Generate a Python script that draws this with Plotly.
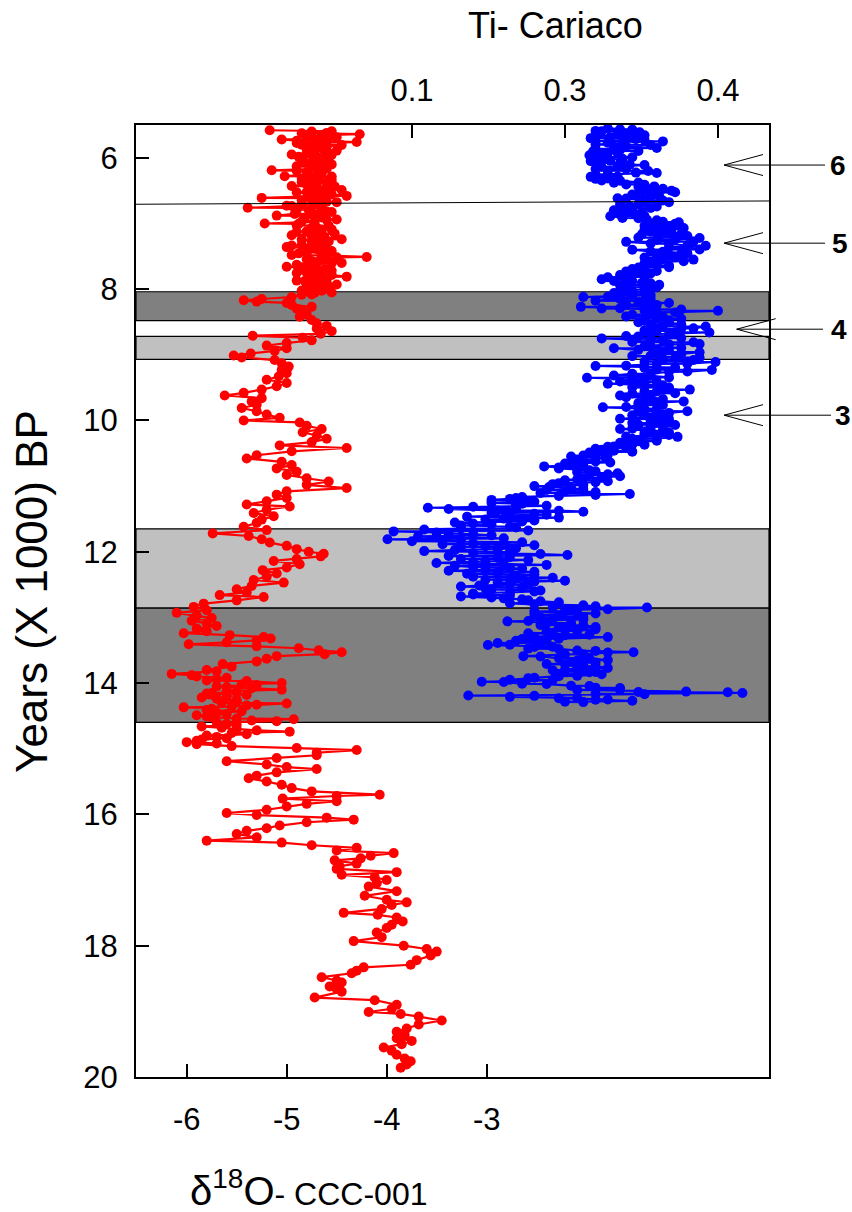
import plotly.graph_objects as go

# ---------------- data ----------------
# d18O record (CCC-001): age (kyr BP) and value, main pass
red_age = [5.58,5.60,5.62,5.64,5.66,5.68,5.70,5.72,5.74,5.76,5.78,5.80,5.83,5.86,5.89,5.92,5.95,5.98,6.01,6.04,
           6.07,6.10,6.13,6.16,6.19,6.22,6.25,6.28,6.31,6.34,6.37,6.40,6.43,6.46,6.49,6.52,6.55,6.58,6.61,6.64,
           6.67,6.70,6.73,6.76,6.79,6.82,6.85,6.88,6.91,6.94,6.97,7.00,7.03,7.06,7.09,7.12,7.15,7.18,7.21,7.24,
           7.27,7.30,7.33,7.36,7.39,7.42,7.45,7.48,7.51,7.54,7.57,7.60,7.63,7.66,7.69,7.72,7.75,7.78,7.81,7.84,
           7.87,7.90,7.93,7.96,7.99,8.02,8.05,8.08,8.12,8.15,8.17,8.19,8.21,8.24,8.27,8.30,8.34,8.38,8.42,8.47,
           8.52,8.56,8.60,8.64,8.68,8.71,8.74,8.78,8.82,8.86,8.90,8.94,8.98,9.01,9.04,9.08,9.13,9.18,9.23,9.28,
           9.33,9.38,9.43,9.48,9.53,9.58,9.62,9.66,9.71,9.76,9.81,9.86,9.91,9.96,10.00,10.03,10.08,10.13,10.18,10.23,
           10.28,10.33,10.38,10.42,10.47,10.53,10.58,10.63,10.68,10.73,10.78,10.83,10.88,10.93,10.98,11.03,11.08,11.13,11.18,11.23,
           11.28,11.31,11.36,11.41,11.46,11.51,11.56,11.62,11.67,11.72,11.76,11.81,11.86,11.91,11.96,12.00,12.03,12.07,12.11,12.14,
           12.19,12.24,12.28,12.33,12.38,12.43,12.47,12.52,12.57,12.62,12.66,12.69,12.74,12.79,12.84,12.89,12.93,12.97,13.01,13.05,
           13.09,13.13,13.17,13.21,13.24,13.27,13.30,13.32,13.35,13.38,13.41,13.44,13.47,13.50,13.53,13.56,13.59,13.63,13.67,13.71,
           13.75,13.80,13.86,13.90,13.94,13.97,14.00,14.03,14.06,14.10,14.13,14.16,14.20,14.24,14.28,14.31,14.34,14.37,14.41,14.45,
           14.49,14.52,14.55,14.58,14.62,14.66,14.70,14.74,14.78,14.82,14.86,14.90,14.93,14.96,14.99,15.02,15.06,15.10,15.14,15.19,
           15.24,15.28,15.31,15.36,15.41,15.45,15.50,15.55,15.60,15.65,15.70,15.72,15.76,15.80,15.84,15.88,15.93,15.98,16.01,16.05,
           16.08,16.12,16.17,16.21,16.25,16.30,16.35,16.40,16.43,16.47,16.51,16.55,16.59,16.63,16.67,16.70,16.75,16.79,16.83,16.88,
           16.92,16.96,17.00,17.05,17.10,17.17,17.24,17.30,17.34,17.38,17.44,17.50,17.53,17.57,17.63,17.68,17.73,17.80,17.87,17.93,
           18.00,18.05,18.09,18.15,18.22,18.29,18.33,18.38,18.42,18.48,18.53,18.56,18.62,18.66,18.70,18.79,18.83,18.90,18.96,19.01,
           19.04,19.08,19.14,19.20,19.26,19.31,19.36,19.41,19.45,19.50,19.55,19.60,19.66,19.72,19.76,19.81,19.86]
red_d18o = [-5.17,-4.75,-4.60,-4.27,-4.55,-4.80,-4.65,-5.05,-4.90,-4.30,-4.70,-4.85,-4.60,-4.75,-4.50,-4.80,-4.95,-4.70,-4.60,-4.85,
            -4.75,-4.55,-4.90,-4.70,-5.15,-4.80,-4.65,-5.02,-4.75,-4.55,-4.85,-4.70,-4.95,-4.60,-4.45,-4.80,-4.65,-4.40,-5.25,-4.75,
            -4.60,-4.85,-5.00,-5.39,-4.90,-4.60,-4.75,-5.10,-4.65,-4.50,-4.85,-5.22,-4.90,-4.70,-4.55,-4.80,-4.65,-4.95,-4.70,-4.45,
            -4.75,-4.60,-4.85,-5.00,-4.70,-4.55,-4.80,-4.95,-4.20,-4.60,-4.75,-4.45,-4.90,-5.00,-4.70,-4.55,-4.80,-4.65,-4.40,-4.75,
            -4.90,-4.60,-4.50,-4.80,-4.65,-4.85,-4.55,-4.75,-4.95,-5.25,-5.43,-5.30,-5.00,-4.95,-4.75,-4.90,-4.85,-4.80,-4.87,-4.75,
            -4.70,-4.60,-4.70,-4.55,-4.66,-5.34,-4.84,-4.75,-5.00,-5.20,-5.00,-5.12,-5.36,-5.53,-5.45,-5.12,-5.05,-4.98,-5.05,-5.00,
            -5.08,-5.20,-5.00,-5.10,-5.25,-5.43,-5.62,-5.25,-5.35,-5.30,-5.45,-5.30,-5.20,-5.07,-5.43,-4.87,-4.80,-4.65,-4.84,-4.70,
            -4.60,-4.75,-5.07,-4.40,-4.95,-5.30,-5.40,-5.05,-4.95,-5.10,-4.90,-5.00,-4.80,-4.58,-4.80,-4.40,-5.00,-5.10,-5.00,-5.20,
            -5.40,-4.97,-5.20,-5.33,-5.13,-5.25,-5.30,-5.43,-5.20,-5.74,-5.38,-5.25,-5.17,-5.00,-4.90,-4.78,-4.63,-4.66,-4.90,-5.13,
            -4.87,-5.00,-5.24,-5.10,-5.20,-5.33,-5.03,-5.35,-5.50,-5.40,-5.67,-5.23,-5.50,-5.83,-5.93,-5.80,-6.10,-5.90,-5.75,-5.95,
            -5.80,-5.70,-5.90,-5.80,-6.03,-5.57,-5.23,-5.16,-5.30,-5.60,-5.98,-5.30,-4.88,-4.68,-4.45,-4.62,-5.10,-5.20,-5.30,-5.64,
            -5.55,-5.80,-6.15,-5.90,-5.70,-5.40,-5.05,-5.30,-5.60,-5.05,-5.50,-5.80,-5.60,-5.70,-5.50,-5.00,-5.40,-6.03,-5.80,-5.70,
            -5.90,-5.75,-4.93,-5.10,-5.60,-5.85,-5.50,-4.97,-5.40,-5.70,-5.85,-6.00,-5.90,-5.55,-4.90,-4.30,-4.70,-4.70,-5.10,-5.60,
            -5.20,-5.00,-4.70,-5.10,-5.30,-5.38,-5.20,-5.05,-4.95,-4.75,-4.07,-4.50,-5.04,-4.50,-4.80,-5.00,-5.20,-5.60,-5.30,-4.60,
            -4.33,-4.80,-5.07,-5.20,-5.40,-5.50,-5.30,-5.80,-5.05,-4.75,-4.30,-4.50,-3.93,-4.16,-4.26,-4.52,-4.30,-4.47,-4.50,-3.90,
            -4.45,-4.12,-4.00,-4.10,-4.18,-3.90,-4.22,-4.00,-3.80,-3.95,-4.05,-4.43,-4.09,-3.90,-3.84,-3.95,-4.00,-4.10,-4.05,-4.33,
            -3.83,-3.60,-3.50,-3.56,-3.70,-3.76,-4.23,-4.30,-4.35,-4.65,-4.50,-4.45,-4.57,-4.50,-4.45,-4.72,-4.12,-3.90,-3.95,-4.18,
            -3.86,-3.68,-3.45,-3.68,-3.80,-3.90,-3.82,-3.90,-3.75,-3.85,-4.03,-3.95,-3.90,-3.82,-3.76,-3.80,-3.86]
# d18O, extra samples read from the dense parts of the record
red_age_b = [5.595,5.625,5.655,5.685,5.715,5.745,5.775,5.805,5.835,5.865,
             5.895,5.925,5.955,5.985,6.015,6.045,6.075,6.105,6.135,6.165,
             6.195,6.225,6.255,6.285,6.315,6.345,6.375,6.405,6.435,6.465,
             6.495,6.525,6.555,6.585,6.615,6.645,6.675,6.705,6.735,6.765,
             6.795,6.825,6.855,6.885,6.915,6.945,6.975,7.005,7.035,7.065,
             7.095,7.125,7.155,7.185,7.215,7.245,7.275,7.305,7.335,7.365,
             7.395,7.425,7.455,7.485,7.515,7.545,7.575,7.605,7.635,7.665,
             7.695,7.725,7.755,7.785,7.815,7.845,7.875,7.905,7.935,7.965,
             7.995,8.025,8.055,8.085,
             13.82,13.88,13.92,13.96,14.02,14.05,14.08,14.12,14.15,14.18,
             14.22,14.26,14.30,14.33,14.36,14.39,14.43,14.47,14.51,14.54,
             14.57,14.60,14.64,14.68,14.72,14.76,14.80,14.84,14.88,14.92]
red_d18o_b = [-4.55,-4.85,-4.65,-4.50,-4.72,-4.60,-4.90,-4.45,-4.68,-4.80,
              -4.62,-4.75,-4.55,-4.88,-4.70,-4.58,-4.82,-4.65,-4.75,-4.60,
              -4.90,-4.68,-4.78,-4.55,-4.85,-4.70,-4.60,-4.80,-4.52,-4.72,
              -4.62,-4.90,-4.55,-4.75,-4.68,-4.85,-4.50,-4.72,-4.95,-4.65,
              -4.78,-4.55,-4.92,-4.70,-4.82,-4.60,-4.72,-4.88,-4.58,-4.75,
              -4.65,-4.90,-4.52,-4.75,-4.62,-4.85,-4.58,-4.70,-4.95,-4.62,
              -4.78,-4.60,-4.88,-4.65,-4.50,-4.80,-4.68,-4.55,-4.75,-4.85,
              -4.62,-4.72,-4.90,-4.55,-4.70,-4.60,-4.82,-4.68,-4.75,-4.58,
              -4.80,-4.65,-4.72,-4.85,
              -5.70,-5.95,-5.60,-5.80,-5.45,-5.70,-5.35,-5.60,-5.75,-5.40,
              -5.85,-5.50,-5.65,-5.30,-5.55,-5.75,-5.45,-5.60,-5.80,-5.50,
              -5.35,-5.70,-5.50,-5.65,-5.30,-5.55,-5.80,-5.60,-5.90,-5.70]

# Ti record (Cariaco): age (kyr BP) and value, main pass
blue_age = [5.55,5.57,5.59,5.61,5.63,5.66,5.68,5.70,5.73,5.75,5.77,5.80,5.83,5.85,5.88,5.90,5.93,5.96,5.99,6.02,
            6.05,6.08,6.11,6.14,6.17,6.20,6.23,6.26,6.29,6.32,6.35,6.38,6.41,6.44,6.47,6.50,6.53,6.56,6.59,6.62,
            6.65,6.68,6.71,6.74,6.77,6.80,6.83,6.86,6.89,6.92,6.95,6.98,7.01,7.04,7.07,7.10,7.13,7.16,7.19,7.22,
            7.25,7.28,7.31,7.34,7.37,7.40,7.43,7.46,7.49,7.52,7.55,7.58,7.61,7.64,7.67,7.70,7.73,7.76,7.79,7.82,
            7.85,7.88,7.91,7.94,7.97,8.00,8.03,8.06,8.09,8.12,8.15,8.18,8.21,8.24,8.27,8.29,8.31,8.33,8.36,8.39,
            8.42,8.45,8.48,8.51,8.54,8.57,8.60,8.63,8.66,8.69,8.72,8.75,8.78,8.81,8.84,8.87,8.90,8.93,8.96,8.99,
            9.02,9.05,9.08,9.11,9.14,9.17,9.20,9.23,9.26,9.29,9.32,9.35,9.38,9.41,9.44,9.47,9.50,9.53,9.56,9.59,
            9.62,9.65,9.68,9.71,9.74,9.77,9.80,9.83,9.86,9.89,9.92,9.95,9.98,10.01,10.04,10.07,10.10,10.13,10.16,10.19,
            10.22,10.25,10.28,10.31,10.34,10.37,10.40,10.43,10.46,10.49,10.52,10.55,10.58,10.61,10.64,10.67,10.70,10.73,10.76,10.79,
            10.82,10.85,10.88,10.91,10.94,10.97,11.00,11.03,11.06,11.09,11.12,11.15,11.18,11.21,11.24,11.27,11.30,11.33,11.35,11.37,
            11.39,11.42,11.45,11.48,11.51,11.54,11.57,11.60,11.63,11.66,11.69,11.72,11.75,11.78,11.81,11.84,11.87,11.90,11.93,11.96,
            11.99,12.02,12.05,12.08,12.11,12.14,12.17,12.20,12.23,12.26,12.29,12.32,12.35,12.38,12.41,12.44,12.47,12.50,12.53,12.56,
            12.59,12.62,12.65,12.68,12.71,12.74,12.77,12.80,12.83,12.85,12.88,12.91,12.94,12.97,13.00,13.03,13.06,13.09,13.12,13.15,
            13.18,13.21,13.24,13.27,13.30,13.33,13.36,13.39,13.42,13.45,13.48,13.51,13.53,13.56,13.59,13.62,13.65,13.68,13.71,13.74,
            13.77,13.80,13.83,13.86,13.89,13.92,13.95,13.98,14.01,14.04,14.07,14.10,14.13,14.14,14.15,14.17,14.19,14.21,14.23,14.25,
            14.27,14.29]
blue_ti = [0.310,0.330,0.300,0.336,0.318,0.300,0.325,0.296,0.340,0.355,0.310,0.300,0.325,0.350,0.320,0.298,0.310,0.295,0.330,0.305,
           0.296,0.320,0.340,0.305,0.300,0.343,0.350,0.310,0.296,0.300,0.320,0.315,0.340,0.335,0.355,0.362,0.345,0.330,0.345,0.325,
           0.355,0.340,0.320,0.350,0.330,0.315,0.338,0.320,0.312,0.335,0.350,0.368,0.345,0.360,0.372,0.340,0.355,0.338,0.375,0.385,
           0.350,0.325,0.360,0.390,0.375,0.330,0.355,0.370,0.360,0.340,0.380,0.350,0.345,0.360,0.335,0.340,0.325,0.345,0.330,0.310,
           0.305,0.330,0.345,0.320,0.350,0.340,0.330,0.315,0.345,0.290,0.320,0.340,0.360,0.350,0.288,0.320,0.370,0.400,0.350,0.330,
           0.355,0.370,0.340,0.360,0.345,0.390,0.370,0.350,0.393,0.360,0.335,0.305,0.355,0.380,0.360,0.340,0.315,0.360,0.385,0.350,
           0.330,0.365,0.380,0.398,0.350,0.300,0.340,0.395,0.360,0.330,0.345,0.293,0.330,0.350,0.310,0.340,0.360,0.377,0.350,0.330,
           0.320,0.345,0.340,0.372,0.350,0.335,0.306,0.340,0.375,0.350,0.330,0.345,0.360,0.350,0.330,0.365,0.345,0.320,0.355,0.340,
           0.360,0.367,0.330,0.350,0.320,0.340,0.310,0.300,0.315,0.295,0.310,0.280,0.300,0.290,0.312,0.280,0.258,0.270,0.295,0.285,
           0.310,0.320,0.290,0.275,0.300,0.265,0.250,0.280,0.260,0.300,0.328,0.270,0.235,0.215,0.250,0.240,0.260,0.163,0.180,0.220,
           0.290,0.250,0.230,0.270,0.210,0.240,0.200,0.190,0.235,0.160,0.135,0.180,0.215,0.170,0.130,0.150,0.200,0.250,0.190,0.220,
           0.160,0.200,0.277,0.230,0.190,0.210,0.170,0.260,0.200,0.240,0.180,0.220,0.250,0.200,0.235,0.275,0.220,0.245,0.190,0.210,
           0.255,0.230,0.200,0.190,0.225,0.245,0.270,0.250,0.300,0.342,0.280,0.250,0.300,0.270,0.255,0.290,0.228,0.260,0.290,0.270,
           0.300,0.260,0.245,0.275,0.310,0.240,0.260,0.220,0.212,0.250,0.270,0.300,0.331,0.290,0.241,0.270,0.310,0.280,0.260,0.290,
           0.310,0.275,0.300,0.270,0.285,0.250,0.230,0.207,0.240,0.280,0.300,0.320,0.374,0.408,0.420,0.340,0.196,0.230,0.270,0.310,
           0.330,0.290]
# Ti, extra samples read from the dense parts of the record
blue_age_b = [5.565,5.595,5.625,5.655,5.685,5.715,5.745,5.775,5.805,5.835,
              5.865,5.895,5.925,5.955,5.985,6.015,6.045,6.075,6.105,6.135,
              6.165,6.195,6.225,6.255,6.285,6.315,6.345,6.375,6.405,6.435,
              6.465,6.495,6.525,6.555,6.585,6.615,6.645,6.675,6.705,6.735,
              6.765,6.795,6.825,6.855,6.885,6.915,6.945,6.975,7.005,7.035,
              7.065,7.095,7.125,7.155,7.185,7.215,7.245,7.275,7.305,7.335,
              7.365,7.395,7.425,7.455,7.485,7.515,7.545,7.575,7.605,7.635,
              7.665,7.695,7.725,7.755,7.785,7.815,7.845,7.875,7.905,7.935,
              7.965,7.995,8.025,8.055,8.085,8.115,8.145,8.175,8.205,8.235,
              8.265,8.295,8.325,8.355,8.385,8.415,8.445,8.475,8.505,8.535,
              8.565,8.595,8.625,8.655,8.685,8.715,8.745,8.775,8.805,8.835,
              8.865,8.895,8.925,8.955,8.985,9.015,9.045,9.075,9.105,9.135,
              9.165,9.195,9.225,9.255,9.285,9.315,9.345,9.375,9.405,9.435,
              9.465,9.495,9.525,9.555,9.585,9.615,9.645,9.675,9.705,9.735,
              9.765,9.795,9.825,9.855,9.885,9.915,9.945,9.975,10.005,10.035,
              10.065,10.095,10.125,10.155,10.185,10.215,10.245,10.275,10.305,10.335,
              10.365,10.395,
              10.415,10.445,10.475,10.505,10.535,10.565,10.595,10.625,10.655,10.685,
              10.715,10.745,10.775,10.805,10.835,10.865,10.895,10.925,10.955,10.985,
              11.015,11.045,11.075,11.105,11.135,11.165,11.195,11.225,11.255,11.285,
              11.315,11.345,11.375,11.405,11.435,11.465,11.495,11.525,11.555,11.585,
              11.615,11.645,11.675,11.705,11.735,11.765,11.795,11.825,11.855,11.885,
              11.915,11.945,11.975,12.005,12.035,12.065,12.095,12.125,12.155,12.185,
              12.215,12.245,12.275,12.305,12.335,12.365,12.395,12.425,12.455,12.485,
              12.515,12.545,12.575,12.605,12.635,12.665,12.695,12.725,12.755,12.785,
              12.815,12.845,12.875,12.905,12.935,12.965,12.995,13.025,13.055,13.085,
              13.115,13.145,13.175,13.205,13.235,13.265,13.295,13.325,13.355,13.385,
              13.415,13.445,13.475,13.505,13.535,13.565,13.595,13.625,13.655,13.685,
              13.715,13.745,13.775,13.805,13.835,13.865,13.895,13.925,13.955,13.985,
              14.015,14.045,14.075,14.105,14.135,14.165,14.195,14.225,14.255,14.285]
blue_ti_b = [0.320,0.305,0.328,0.340,0.312,0.333,0.300,0.322,0.345,0.315,
             0.300,0.335,0.318,0.305,0.298,0.322,0.312,0.300,0.328,0.318,
             0.325,0.310,0.333,0.300,0.318,0.310,0.305,0.335,0.325,0.348,
             0.340,0.350,0.365,0.335,0.352,0.318,0.340,0.360,0.335,0.328,
             0.345,0.325,0.318,0.332,0.340,0.322,0.342,0.355,0.365,0.340,
             0.350,0.362,0.345,0.370,0.352,0.335,0.365,0.380,0.345,0.375,
             0.360,0.385,0.345,0.375,0.350,0.365,0.355,0.372,0.340,0.350,
             0.360,0.330,0.350,0.335,0.320,0.340,0.325,0.315,0.338,0.352,
             0.325,0.345,0.320,0.340,0.330,0.310,0.345,0.300,0.335,0.325,
             0.345,0.305,0.340,0.365,0.345,0.325,0.350,0.360,0.335,0.370,
             0.355,0.380,0.340,0.365,0.345,0.325,0.370,0.345,0.330,0.385,
             0.345,0.370,0.335,0.355,0.370,0.345,0.385,0.355,0.340,0.375,
             0.325,0.365,0.350,0.375,0.345,0.315,0.360,0.340,0.320,0.335,
             0.355,0.330,0.360,0.340,0.365,0.345,0.325,0.355,0.345,0.335,
             0.355,0.325,0.350,0.335,0.360,0.340,0.355,0.320,0.345,0.360,
             0.335,0.355,0.330,0.345,0.360,0.340,0.325,0.350,0.335,0.325,
             0.330,0.315,
             0.325,0.305,0.330,0.298,0.290,0.308,0.285,0.300,0.275,0.290,
             0.270,0.285,0.300,0.318,0.295,0.305,0.285,0.310,0.270,0.290,
             0.262,0.290,0.275,0.255,0.300,0.240,0.230,0.245,0.215,0.235,
             0.200,0.235,0.270,0.215,0.260,0.195,0.225,0.250,0.185,0.215,
             0.230,0.190,0.245,0.170,0.200,0.155,0.225,0.190,0.240,0.175,
             0.210,0.235,0.185,0.230,0.255,0.180,0.220,0.245,0.200,0.225,
             0.185,0.230,0.210,0.250,0.195,0.235,0.265,0.210,0.250,0.230,
             0.205,0.240,0.215,0.250,0.200,0.230,0.215,0.240,0.255,0.230,
             0.290,0.265,0.310,0.275,0.285,0.250,0.290,0.265,0.245,0.280,
             0.255,0.300,0.275,0.285,0.265,0.295,0.250,0.270,0.235,0.255,
             0.230,0.265,0.245,0.285,0.310,0.275,0.255,0.295,0.285,0.300,
             0.275,0.300,0.285,0.265,0.295,0.305,0.270,0.245,0.265,0.225,
             0.260,0.295,0.320,0.285,0.335,0.300,0.250,0.285,0.300,0.275]

# top-axis ticks (Ti) and bottom-axis ticks (d18O)
ti_tickvals = [0.15, 0.275, 0.4]
ti_ticktext = ["0.1", "0.3", "0.4"]
d18o_tickvals = [-6, -5, -4, -3]
d18o_ticktext = ["-6", "-5", "-4", "-3"]
age_tickvals = [6, 8, 10, 12, 14, 16, 18, 20]

# shaded intervals (age, kyr BP) and colours
band_start = [8.04, 8.72, 11.65, 12.86]
band_end = [8.48, 9.07, 12.86, 14.60]
band_color = ["#808080", "#c0c0c0", "#c0c0c0", "#808080"]

# labelled events (age) on the right
event_labels = ["6", "5", "4", "3"]
event_age = [6.11, 7.30, 8.61, 9.92]

FONT = "Liberation Sans, Arial, sans-serif"

# merge the passes into one age-ordered series each
red_pairs = sorted(zip(red_age + red_age_b, red_d18o + red_d18o_b))
blue_pairs = sorted(zip(blue_age + blue_age_b, blue_ti + blue_ti_b))

fig = go.Figure()
fig.add_trace(go.Scatter(x=[p[1] for p in red_pairs], y=[p[0] for p in red_pairs], mode="lines+markers",
                         line=dict(color="#ff0000", width=2.2),
                         marker=dict(color="#ff0000", size=10),
                         xaxis="x", yaxis="y", showlegend=False))
fig.add_trace(go.Scatter(x=[p[1] for p in blue_pairs], y=[p[0] for p in blue_pairs], mode="lines+markers",
                         line=dict(color="#0000ff", width=2.2),
                         marker=dict(color="#0000ff", size=10),
                         xaxis="x2", yaxis="y", showlegend=False))

shapes = []
for a0, a1, c in zip(band_start, band_end, band_color):
    shapes.append(dict(type="rect", xref="paper", yref="y", x0=0, x1=1, y0=a0, y1=a1,
                       fillcolor=c, line=dict(color="black", width=1.2), layer="below"))
# thin reference line
shapes.append(dict(type="line", xref="paper", yref="y", x0=0, x1=1, y0=6.707, y1=6.657,
                   line=dict(color="black", width=1)))

annotations = []
arrow_geom = {"6": (0.929, 0.9905, 1.0885), "5": (0.929, 0.9905, 1.0885),
              "4": (0.949, 1.0106, 1.0853), "3": (0.929, 0.9905, 1.098)}
label_x = {"6": 1.0930, "5": 1.0960, "4": 1.0945, "3": 1.1005}
for lab, age in zip(event_labels, event_age):
    tip, arm, end = arrow_geom[lab]
    ln = dict(color="black", width=1)
    shapes.append(dict(type="line", xref="paper", yref="y", x0=tip, x1=end, y0=age, y1=age, line=ln))
    shapes.append(dict(type="line", xref="paper", yref="y", x0=tip, x1=arm, y0=age, y1=age - 0.16, line=ln))
    shapes.append(dict(type="line", xref="paper", yref="y", x0=tip, x1=arm, y0=age, y1=age + 0.16, line=ln))
    annotations.append(dict(text="<b>%s</b>" % lab, xref="paper", yref="y", x=label_x[lab], y=age,
                            xanchor="left", yanchor="middle", showarrow=False,
                            font=dict(family=FONT, size=28, color="black")))

annotations.append(dict(text="Ti- Cariaco", xref="paper", yref="paper", x=0.662, y=1.105,
                        xanchor="center", yanchor="middle", showarrow=False,
                        font=dict(family=FONT, size=36, color="black")))
annotations.append(dict(text="Years (X 1000) BP", xref="paper", yref="paper", x=-0.166, y=0.5105,
                        xanchor="center", yanchor="middle", textangle=-90, showarrow=False,
                        font=dict(family=FONT, size=44, color="black")))
annotations.append(dict(text='δ<sup>18</sup>O<span style="font-size:32px">- CCC-001</span>',
                        xref="paper", yref="paper", x=0.273, y=-0.117,
                        xanchor="center", yanchor="middle", showarrow=False,
                        font=dict(family=FONT, size=40, color="black")))

axis_common = dict(showgrid=False, zeroline=False, showline=True, linecolor="black", linewidth=2,
                   ticks="inside", ticklen=13, tickwidth=2, tickcolor="black",
                   tickfont=dict(family=FONT, size=31, color="black"))

fig.update_layout(
    width=852, height=1212,
    margin=dict(l=136, r=83, t=125, b=135, autoexpand=False),
    paper_bgcolor="white", plot_bgcolor="white",
    xaxis=dict(range=[-6.507, -0.177], tickvals=d18o_tickvals, ticktext=d18o_ticktext,
               ticklabelstandoff=14, **axis_common),
    xaxis2=dict(range=[-0.0755, 0.4417], tickvals=ti_tickvals, ticktext=ti_ticktext,
                overlaying="x", side="top", ticklabelstandoff=10, **axis_common),
    yaxis=dict(range=[20, 5.5], tickvals=age_tickvals, mirror=True, ticklabelstandoff=10, **axis_common),
    shapes=shapes, annotations=annotations,
)

fig.write_html("out.html")
